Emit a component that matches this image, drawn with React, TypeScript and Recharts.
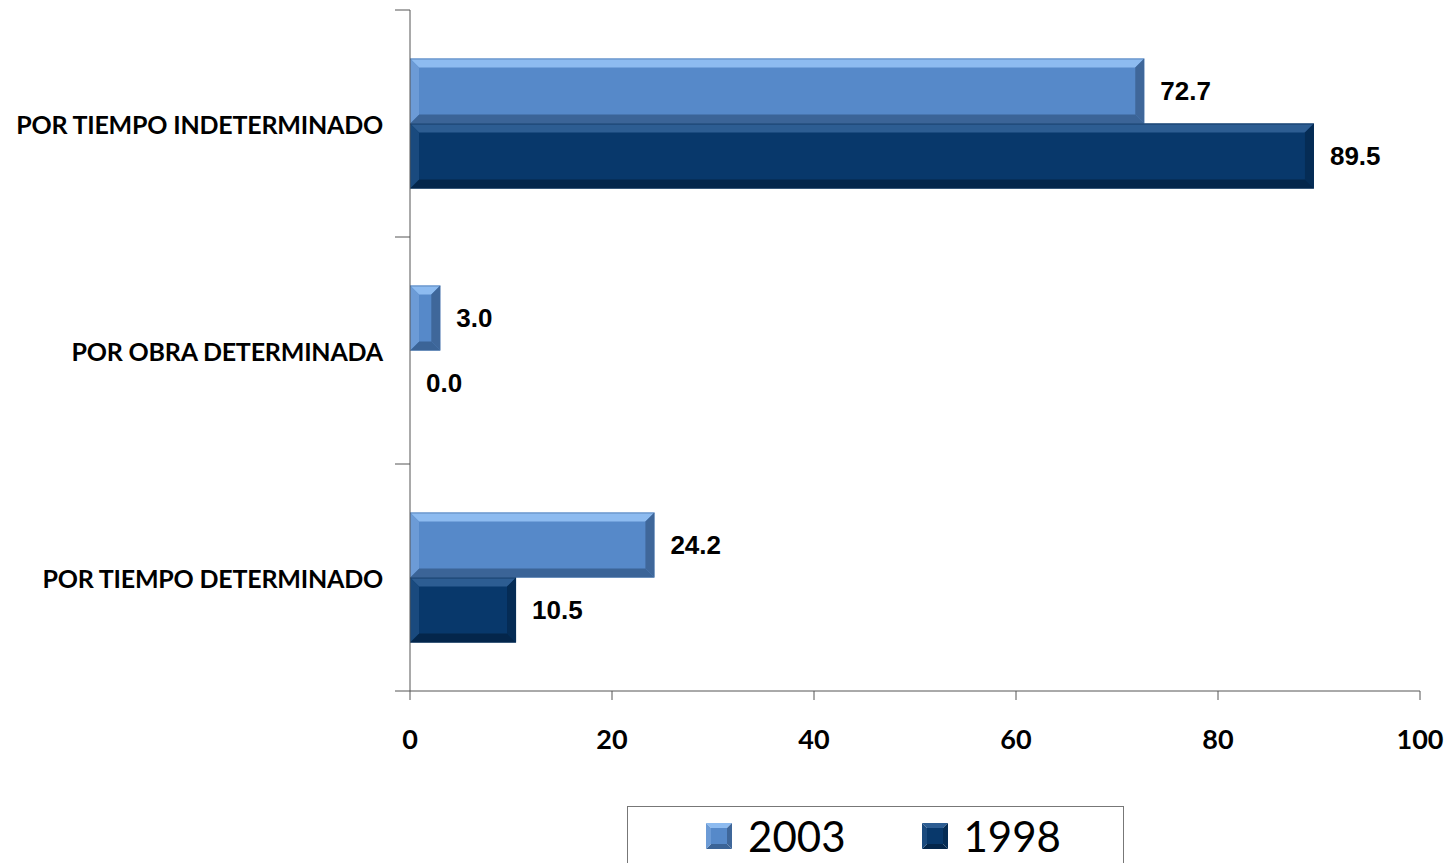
import React from 'react';
import { BarChart, Bar, XAxis, YAxis, Legend, LabelList } from 'recharts';

const categories = ['POR TIEMPO INDETERMINADO', 'POR OBRA DETERMINADA', 'POR TIEMPO DETERMINADO'];
const values2003 = [72.7, 3.0, 24.2];
const values1998 = [89.5, 0.0, 10.5];
const xTicks = [0, 20, 40, 60, 80, 100];
const seriesNames = ['2003', '1998'];

const data = categories.map((name, i) => ({ name, v2003: values2003[i], v1998: values1998[i] }));

const PAL_2003 = { base: '#5689C9', light: '#8DBBF0', left: '#6C9BD6', dark: '#3B6497', right: '#3F679A' };
const PAL_1998 = { base: '#08386B', light: '#2D5D92', left: '#1A4A7E', dark: '#04264B', right: '#052C55' };

const Y_TICK_SIZE = 10;
const Y_TICK_MARGIN = 17;

const BevelBar = (props: any) => {
  const { x, y, width, height, pal } = props;
  if (!width || width <= 0 || !height) return null;
  const w = width;
  const h = height;
  const b = Math.min(9, w / 2, h / 2);
  return (
    <g>
      <rect x={x} y={y} width={w} height={h} fill={pal.base} />
      <polygon points={`${x},${y} ${x + w},${y} ${x + w - b},${y + b} ${x + b},${y + b}`} fill={pal.light} />
      <polygon points={`${x},${y + h} ${x + w},${y + h} ${x + w - b},${y + h - b} ${x + b},${y + h - b}`} fill={pal.dark} />
      <polygon points={`${x},${y} ${x + b},${y + b} ${x + b},${y + h - b} ${x},${y + h}`} fill={pal.left} />
      <polygon points={`${x + w},${y} ${x + w - b},${y + b} ${x + w - b},${y + h - b} ${x + w},${y + h}`} fill={pal.right} />
      <line x1={x} y1={y + 0.5} x2={x + w} y2={y + 0.5} stroke={pal.dark} strokeOpacity={0.5} />
    </g>
  );
};

const YTick = (props: any) => {
  const { x, y, payload, index } = props;
  const half = payload && typeof payload.offset === 'number' && payload.offset > 0 ? payload.offset : 681 / 6;
  const axisX = x + Y_TICK_SIZE + Y_TICK_MARGIN;
  return (
    <g>
      <line x1={axisX - Y_TICK_SIZE - 5} y1={y - half} x2={axisX} y2={y - half} stroke="#555" strokeWidth={1} />
      {index === categories.length - 1 && (
        <line x1={axisX - Y_TICK_SIZE - 5} y1={y + half} x2={axisX} y2={y + half} stroke="#555" strokeWidth={1} />
      )}
      <text x={x} y={y} textAnchor="end" dominantBaseline="central" fontFamily="Lato, sans-serif" fontWeight={700} fontSize={25} fill="#000" letterSpacing={-0.2}>
        {payload.value}
      </text>
    </g>
  );
};

const LegendIcon = ({ pal }: { pal: any }) => (
  <svg width={26} height={26} style={{ display: 'inline-block', verticalAlign: 'middle' }}>
    <polygon points="0,0 26,0 13,13" fill={pal.light} />
    <polygon points="0,26 26,26 13,13" fill={pal.dark} />
    <polygon points="0,0 0,26 13,13" fill={pal.left} />
    <polygon points="26,0 26,26 13,13" fill={pal.right} />
    <rect x={5} y={5} width={16} height={16} fill={pal.base} />
  </svg>
);

const LegendContent = () => (
  <div
    style={{
      boxSizing: 'border-box',
      width: 497,
      height: 80,
      border: '1.5px solid #777',
      background: '#fff',
      display: 'flex',
      justifyContent: 'center',
      alignItems: 'flex-start',
      paddingTop: 6,
      paddingLeft: 16,
      fontFamily: 'Lato, sans-serif',
      fontSize: 42,
      color: '#000',
    }}
  >
    {seriesNames.map((s, i) => (
      <div key={s} style={{ display: 'flex', alignItems: 'center', marginLeft: i === 0 ? 0 : 76 }}>
        <LegendIcon pal={i === 0 ? PAL_2003 : PAL_1998} />
        <span style={{ marginLeft: 16, lineHeight: '46px' }}>{s}</span>
      </div>
    ))}
  </div>
);

export default function App() {
  return (
    <div style={{ position: 'absolute', left: 0, top: 0, width: 1449, height: 863, background: '#fff', overflow: 'hidden' }}>
      <BarChart
        width={1449}
        height={863}
        data={data}
        layout="vertical"
        margin={{ top: 10, right: 29, left: 0, bottom: 112 }}
        barCategoryGap="21.4%"
        barGap={0}
      >
        <XAxis
          type="number"
          domain={[0, 100]}
          ticks={xTicks}
          height={60}
          tickSize={9}
          tickMargin={30}
          axisLine={{ stroke: '#555' }}
          tickLine={{ stroke: '#555' }}
          tick={{ fontFamily: 'Lato, sans-serif', fontWeight: 700, fontSize: 27, fill: '#000' }}
        />
        <YAxis
          type="category"
          dataKey="name"
          width={410}
          tickSize={Y_TICK_SIZE}
          tickMargin={Y_TICK_MARGIN}
          tickLine={false}
          axisLine={{ stroke: '#555' }}
          tick={<YTick />}
          interval={0}
        />
        <Legend
          verticalAlign="middle"
          align="center"
          layout="horizontal"
          content={<LegendContent />}
          wrapperStyle={{ left: 627, top: 806, width: 497 }}
        />
        <Bar dataKey="v2003" name="2003" isAnimationActive={false} shape={(p: any) => <BevelBar {...p} pal={PAL_2003} />}>
          <LabelList
            dataKey="v2003"
            position="right"
            offset={16}
            formatter={(v: any) => Number(v).toFixed(1)}
            style={{ fontFamily: 'Liberation Sans, Arial, sans-serif', fontWeight: 700, fontSize: 26, fill: '#000' }}
          />
        </Bar>
        <Bar dataKey="v1998" name="1998" isAnimationActive={false} shape={(p: any) => <BevelBar {...p} pal={PAL_1998} />}>
          <LabelList
            dataKey="v1998"
            position="right"
            offset={16}
            formatter={(v: any) => Number(v).toFixed(1)}
            style={{ fontFamily: 'Liberation Sans, Arial, sans-serif', fontWeight: 700, fontSize: 26, fill: '#000' }}
          />
        </Bar>
      </BarChart>
    </div>
  );
}
